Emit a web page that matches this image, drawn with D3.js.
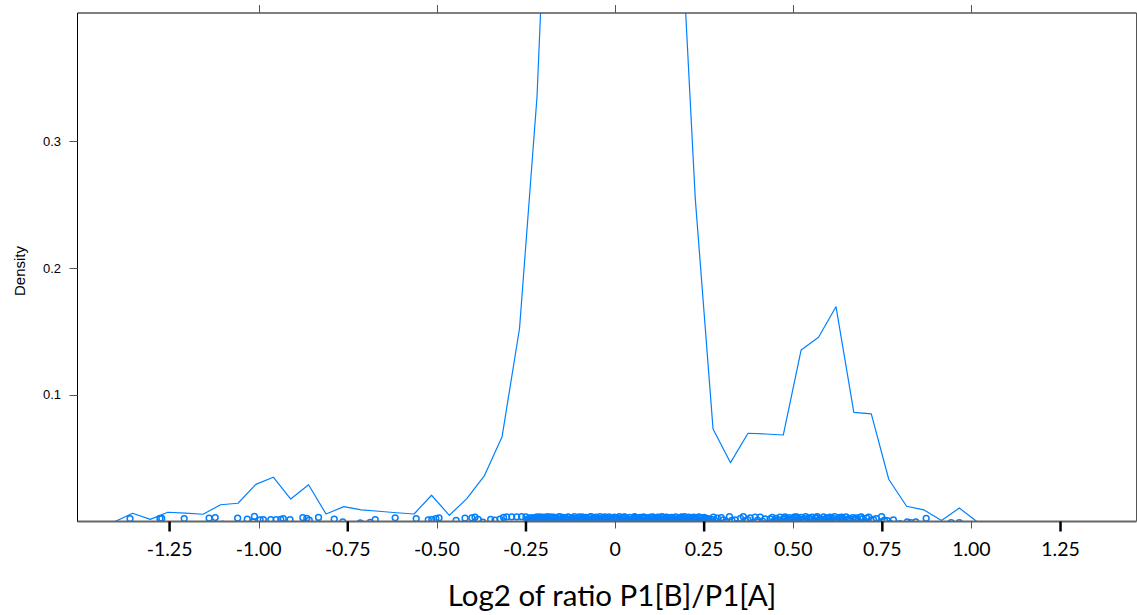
<!DOCTYPE html>
<html>
<head>
<meta charset="utf-8">
<script src="https://cdn.jsdelivr.net/npm/d3@7"></script>
<style>
  html, body { margin: 0; padding: 0; background: #fff; }
  svg { display: block; }
</style>
</head>
<body>
<svg id="chart" width="1137" height="615"></svg>
<script>
// Kernel density estimate of log2(P1[B]/P1[A]), evaluated on a 50-point grid
const gridX = [
  -1.403, -1.354, -1.304, -1.255, -1.206, -1.156, -1.107, -1.058, -1.008, -0.959,
  -0.910, -0.860, -0.811, -0.761, -0.712, -0.663, -0.613, -0.564, -0.515, -0.465,
  -0.416, -0.367, -0.317, -0.268, -0.219, -0.169, -0.120, -0.071, -0.021, 0.028,
  0.077, 0.127, 0.176, 0.225, 0.275, 0.324, 0.373, 0.423, 0.472, 0.522,
  0.571, 0.620, 0.670, 0.719, 0.768, 0.818, 0.867, 0.916, 0.966, 1.015
];
const density = [
  0.0000, 0.0065, 0.0017, 0.0073, 0.0066, 0.0057, 0.0132, 0.0144, 0.0293, 0.0349,
  0.0177, 0.0290, 0.0059, 0.0117, 0.0091, 0.0081, 0.0069, 0.0059, 0.0207, 0.0049,
  0.0180, 0.0359, 0.0669, 0.1524, 0.3350, 0.6670, 1.0200, 1.3100, 1.4600, 1.4400,
  1.2800, 0.9500, 0.5220, 0.2550, 0.0730, 0.0464, 0.0696, 0.0690, 0.0682, 0.1352,
  0.1453, 0.1694, 0.0861, 0.0848, 0.0333, 0.0120, 0.0091, 0.0008, 0.0106, 0.0000
];

// Observations drawn as a jittered rug: [log2 ratio, vertical jitter x 1000]
const rugPoints = [
  [-1.361,2.2],[-1.277,2.4],[-1.272,2.4],[-1.209,2.3],[-1.139,2.6],[-1.122,3.1],[-1.101,-2.0],
  [-1.059,2.6],[-1.032,1.8],[-1.015,-0.3],[-1.012,4.0],[-0.996,1.3],[-0.987,1.5],[-0.966,1.5],
  [-0.951,1.4],[-0.938,1.6],[-0.931,2.2],[-0.912,1.5],[-0.876,3.0],[-0.865,2.5],[-0.858,1.0],
  [-0.832,3.2],[-0.788,1.8],[-0.764,-0.4],[-0.715,-1.2],[-0.687,-0.8],[-0.673,1.4],[-0.617,2.9],
  [-0.558,2.2],[-0.524,1.3],[-0.514,1.5],[-0.503,2.3],[-0.494,2.8],[-0.446,0.8],[-0.421,2.6],
  [-0.402,2.9],[-0.393,3.4],[-0.384,1.6],[-0.371,-0.6],[-0.349,1.6],[-0.337,1.0],[-0.323,1.8],
  [-0.313,3.3],[-0.304,3.6],[-0.290,3.7],[-0.276,3.7],[-0.262,3.8],
  [-0.250,3.6],[-0.247,0.4],[-0.243,2.2],[-0.240,-1.6],[-0.236,3.1],[-0.233,1.0],[-0.229,-0.4],
  [-0.226,2.7],[-0.222,0.2],[-0.218,3.7],[-0.215,1.6],[-0.211,-1.9],[-0.208,2.9],[-0.204,0.8],
  [-0.200,3.4],[-0.197,-0.8],[-0.193,2.0],[-0.190,3.8],[-0.186,0.5],[-0.182,-2.3],[-0.179,2.5],
  [-0.175,1.2],[-0.172,3.5],[-0.168,-0.2],[-0.164,2.3],[-0.161,0.9],[-0.157,3.8],[-0.154,-1.2],
  [-0.150,1.9],[-0.146,3.2],[-0.143,0.3],[-0.139,2.6],[-0.136,-1.7],[-0.132,3.6],[-0.128,1.4],
  [-0.125,-0.5],[-0.121,2.8],[-0.118,0.6],[-0.114,3.9],[-0.110,1.8],[-0.107,-2.0],[-0.103,3.0],
  [-0.100,0.1],[-0.096,2.4],[-0.092,3.7],[-0.089,-0.9],[-0.085,1.5],[-0.082,3.3],[-0.078,0.7],
  [-0.074,2.1],[-0.071,-1.4],[-0.067,3.8],[-0.064,1.1],[-0.060,2.6],[-0.056,-0.3],[-0.053,3.4],
  [-0.049,0.4],[-0.046,2.2],[-0.042,3.9],[-0.038,-1.8],[-0.035,1.7],[-0.031,3.1],[-0.028,0.2],
  [-0.024,2.7],[-0.020,-0.7],[-0.017,3.6],[-0.013,1.3],[-0.010,2.4],[-0.006,-2.1],[-0.002,3.5],
  [0.001,0.8],[0.005,2.9],[0.008,-0.6],[0.012,3.8],[0.016,1.6],[0.019,0.0],[0.023,2.5],
  [0.026,3.7],[0.030,-1.3],[0.034,2.0],[0.037,0.5],[0.041,3.3],[0.044,1.2],[0.048,-1.9],
  [0.052,2.8],[0.055,3.9],[0.059,0.3],[0.062,1.9],[0.066,-0.4],[0.070,3.2],[0.073,0.9],
  [0.077,2.6],[0.080,3.7],[0.084,-1.5],[0.088,1.4],[0.091,3.0],[0.095,0.1],[0.098,2.3],
  [0.102,-0.8],[0.106,3.6],[0.109,1.0],[0.113,2.7],[0.116,-2.2],[0.120,3.4],[0.124,0.6],
  [0.127,1.8],[0.131,3.8],[0.134,-0.2],[0.138,2.2],[0.142,0.9],[0.145,3.5],[0.149,-1.1],
  [0.152,1.5],[0.156,3.1],[0.160,0.4],[0.163,2.6],[0.167,-1.6],[0.170,3.7],[0.174,1.1],
  [0.178,2.0],[0.181,-0.5],[0.185,3.3],[0.188,0.7],[0.192,2.8],[0.196,3.9],[0.199,-1.0],
  [0.203,1.6],[0.206,3.0],[0.210,0.2],[0.214,2.4],[0.217,-1.7],[0.221,3.5],[0.224,1.3],
  [0.228,2.1],[0.232,-0.1],[0.235,3.6],[0.239,0.8],[0.242,2.7],[0.246,-1.4],[0.250,3.2],
  [0.253,1.0],[0.257,2.5],[0.260,0.3],
  [-0.245,1.5],[-0.238,0.6],[-0.231,2.4],[-0.224,3.2],[-0.217,1.1],[-0.210,3.6],[-0.202,2.1],
  [-0.195,3.0],[-0.188,1.4],[-0.180,3.7],[-0.173,0.2],[-0.166,2.9],[-0.159,1.7],[-0.152,3.5],
  [-0.145,0.9],[-0.137,2.0],[-0.130,3.3],[-0.123,1.6],[-0.116,2.5],[-0.109,0.8],[-0.101,3.6],
  [-0.094,1.3],[-0.087,2.9],[-0.080,2.0],[-0.072,3.4],[-0.065,0.5],[-0.058,1.8],[-0.051,3.0],
  [-0.044,1.0],[-0.036,2.6],[-0.029,3.7],[-0.022,1.5],[-0.015,2.2],[-0.008,0.7],[0.000,3.1],
  [0.007,1.9],[0.014,2.7],[0.021,1.0],[0.028,3.4],[0.035,2.3],[0.043,0.6],[0.050,1.7],
  [0.057,3.2],[0.064,2.4],[0.071,1.4],[0.079,3.0],[0.086,0.8],[0.093,2.1],[0.100,3.4],
  [0.107,1.9],[0.115,0.7],[0.122,2.9],[0.129,1.2],[0.136,3.5],[0.143,2.5],[0.151,1.0],
  [0.158,3.3],[0.165,1.9],[0.172,0.6],[0.180,2.8],[0.187,3.6],[0.194,1.4],[0.201,2.3],
  [0.208,3.5],[0.216,0.9],[0.223,2.6],[0.230,1.7],[0.237,3.0],[0.244,1.1],[0.251,2.2],
  [0.264,2.0],[0.268,-0.8],[0.271,1.7],[0.276,3.4],[0.281,0.4],[0.287,2.6],[0.293,-1.1],
  [0.298,3.0],[0.304,1.2],[0.312,-0.5],[0.321,3.8],[0.328,0.9],[0.337,1.2],[0.344,-1.4],
  [0.352,2.4],[0.360,3.8],[0.366,0.6],[0.372,1.5],[0.379,2.8],[0.386,-0.9],[0.393,3.5],
  [0.400,1.0],[0.407,3.5],[0.414,0.2],[0.421,2.0],[0.428,-1.3],[0.435,2.0],[0.441,3.2],
  [0.447,0.7],[0.452,2.5],[0.458,1.3],[0.463,3.4],[0.468,-0.6],[0.472,2.1],[0.477,3.6],
  [0.481,0.8],[0.486,1.9],[0.490,3.0],[0.495,-1.2],[0.499,2.4],[0.504,3.7],[0.508,1.1],
  [0.513,2.7],[0.517,0.3],[0.522,3.3],[0.526,1.6],[0.531,2.2],[0.535,3.8],[0.540,-0.4],
  [0.544,2.9],[0.549,1.4],[0.553,3.5],[0.558,0.6],[0.562,2.6],[0.567,3.9],[0.571,1.0],
  [0.576,2.3],[0.580,-1.0],[0.585,3.6],[0.589,1.8],[0.594,2.9],[0.598,0.4],[0.603,3.4],
  [0.607,1.5],[0.612,2.5],[0.616,3.9],[0.621,-0.7],[0.625,2.0],[0.630,3.2],[0.634,1.1],
  [0.639,2.7],[0.643,0.2],[0.648,3.6],[0.652,1.7],[0.657,2.4],[0.662,-1.5],[0.667,3.0],
  [0.672,1.2],[0.677,2.8],[0.682,0.5],[0.688,3.3],[0.694,1.9],[0.700,-0.9],[0.706,2.6],
  [0.712,3.5],[0.718,0.8],[0.725,1.6],[0.733,2.2],[0.741,-1.2],[0.748,3.9],[0.756,1.0],
  [0.764,0.6],[0.772,-1.4],[0.781,1.2],
  [0.475,2.8],[0.492,1.2],[0.510,3.6],[0.528,0.9],[0.546,2.1],[0.564,3.2],[0.582,1.5],
  [0.600,2.6],[0.618,1.1],[0.636,3.4],[0.654,0.7],[0.674,2.3],[0.691,3.7],
  [0.799,-1.6],[0.820,-0.4],[0.830,-1.0],[0.844,-0.4],[0.873,2.5],[0.943,-1.0],[0.966,-0.9]
];

// Axis ticks
const xLabelTicks = [-1.25, -1.00, -0.75, -0.50, -0.25, 0, 0.25, 0.50, 0.75, 1.00, 1.25];
const xLabelText  = ["-1.25", "-1.00", "-0.75", "-0.50", "-0.25", "0", "0.25", "0.50", "0.75", "1.00", "1.25"];
const xMinorTicks = [-1.0, -0.5, 0, 0.5, 1.0];
const xMajorTicks = [-1.25, -0.75, -0.25, 0.25, 0.75, 1.25];
const yTicks = [0.1, 0.2, 0.3];

const xTitle = "Log2 of ratio P1[B]/P1[A]";
const yTitle = "Density";

const lineColor = "#0080ff";

const svg = d3.select("#chart");
const panel = { left: 77.5, right: 1136.5, top: 13, bottom: 521.5 };

const x = d3.scaleLinear().domain([-1.5084, 1.4632]).range([panel.left, panel.right]);
const y = d3.scaleLinear().domain([0, 0.401]).range([panel.bottom, panel.top]);

svg.append("defs").append("clipPath").attr("id", "panelClip")
  .append("rect")
  .attr("x", panel.left).attr("y", panel.top)
  .attr("width", panel.right - panel.left)
  .attr("height", panel.bottom - panel.top);

const plot = svg.append("g").attr("clip-path", "url(#panelClip)");

// density curve
const curve = gridX.map((v, i) => [v, density[i]]);
plot.append("path")
  .datum(curve)
  .attr("fill", "none")
  .attr("stroke", lineColor)
  .attr("stroke-width", 1.2)
  .attr("stroke-linejoin", "round")
  .attr("d", d3.line().x(d => x(d[0])).y(d => y(d[1])));

// jittered rug of observations
plot.append("g")
  .selectAll("circle")
  .data(rugPoints)
  .join("circle")
  .attr("cx", d => x(d[0]))
  .attr("cy", d => y(d[1] / 1000))
  .attr("r", 2.9)
  .attr("fill", "none")
  .attr("stroke", lineColor)
  .attr("stroke-width", 1.5);

// panel frame
svg.append("line").attr("x1", panel.left).attr("x2", panel.right)
  .attr("y1", panel.top).attr("y2", panel.top)
  .attr("stroke", "#555").attr("stroke-width", 1.5);
svg.append("line").attr("x1", panel.right).attr("x2", panel.right)
  .attr("y1", panel.top).attr("y2", panel.bottom)
  .attr("stroke", "#555").attr("stroke-width", 1);
svg.append("line").attr("x1", panel.left).attr("x2", panel.left)
  .attr("y1", panel.top).attr("y2", panel.bottom + 0.5)
  .attr("stroke", "#000").attr("stroke-width", 1);
svg.append("line").attr("x1", panel.left).attr("x2", panel.right)
  .attr("y1", panel.bottom).attr("y2", panel.bottom)
  .attr("stroke", "#666").attr("stroke-width", 2);

// top ticks
svg.append("g").selectAll("line").data(xMinorTicks).join("line")
  .attr("x1", d => Math.round(x(d)) + 0.5).attr("x2", d => Math.round(x(d)) + 0.5)
  .attr("y1", panel.top).attr("y2", panel.top - 8)
  .attr("stroke", "#555").attr("stroke-width", 1);

// bottom thin ticks
svg.append("g").selectAll("line").data(xMinorTicks).join("line")
  .attr("x1", d => Math.round(x(d)) + 0.5).attr("x2", d => Math.round(x(d)) + 0.5)
  .attr("y1", panel.bottom).attr("y2", panel.bottom + 7)
  .attr("stroke", "#555").attr("stroke-width", 1);

// bottom bold ticks
svg.append("g").selectAll("line").data(xMajorTicks).join("line")
  .attr("x1", d => x(d)).attr("x2", d => x(d))
  .attr("y1", panel.bottom).attr("y2", panel.bottom + 10)
  .attr("stroke", "#000").attr("stroke-width", 2.5);

// x tick labels
svg.append("g").selectAll("text").data(xLabelTicks).join("text")
  .attr("x", d => x(d)).attr("y", 556)
  .attr("text-anchor", "middle")
  .attr("font-family", "Lato, 'Open Sans', sans-serif")
  .attr("font-size", 19.5)
  .attr("fill", "#000")
  .text((d, i) => xLabelText[i]);

// y ticks and labels
svg.append("g").selectAll("line").data(yTicks).join("line")
  .attr("x1", panel.left - 8).attr("x2", panel.left)
  .attr("y1", d => Math.round(y(d)) + 0.5).attr("y2", d => Math.round(y(d)) + 0.5)
  .attr("stroke", "#555").attr("stroke-width", 1);
svg.append("g").selectAll("text").data(yTicks).join("text")
  .attr("x", 61).attr("y", d => y(d))
  .attr("dy", "0.36em")
  .attr("text-anchor", "end")
  .attr("font-family", "'Liberation Sans', Arial, sans-serif")
  .attr("font-size", 13)
  .attr("fill", "#000")
  .text(d => d3.format(".1f")(d));

// axis titles
svg.append("text")
  .attr("x", 612).attr("y", 606)
  .attr("text-anchor", "middle")
  .attr("font-family", "Lato, 'Open Sans', sans-serif")
  .attr("font-size", 29.5)
  .attr("fill", "#000")
  .text(xTitle);

svg.append("text")
  .attr("transform", "translate(25,271) rotate(-90)")
  .attr("text-anchor", "middle")
  .attr("font-family", "'Liberation Sans', Arial, sans-serif")
  .attr("font-size", 15)
  .attr("fill", "#000")
  .text(yTitle);
</script>
</body>
</html>
